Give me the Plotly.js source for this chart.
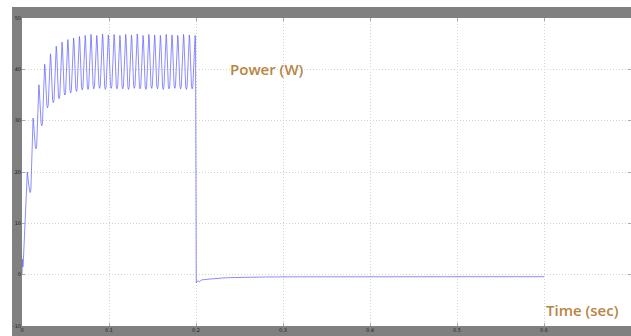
<!DOCTYPE html>
<html>
<head>
<meta charset="utf-8">
<script src="https://cdn.plot.ly/plotly-3.0.1.min.js"></script>
<style>html,body{margin:0;padding:0;background:#fff;}#chart{width:631px;height:336px;}</style>
</head>
<body>
<div id="chart"></div>
<script>
// Time (s) and power (W) samples
var timeSec = [
  0, 0.0005, 0.001, 0.0015,
  0.0061, 0.0066, 0.0086, 0.0094, 0.0102,
  0.01275, 0.01325, 0.01525, 0.01605, 0.01685,
  0.0194, 0.0199, 0.0219, 0.0227, 0.0235,
  0.02605, 0.02655, 0.02855, 0.02935, 0.03015,
  0.0327, 0.0332, 0.0352, 0.036, 0.0368,
  0.03935, 0.03985, 0.04185, 0.04265, 0.04345,
  0.046, 0.0465, 0.0485, 0.0493, 0.0501,
  0.05265, 0.05315, 0.05515, 0.05595, 0.05675,
  0.0593, 0.0598, 0.0618, 0.0626, 0.0634,
  0.06595, 0.06645, 0.06845, 0.06925, 0.07005,
  0.0726, 0.0731, 0.0751, 0.0759, 0.0767,
  0.07925, 0.07975, 0.08175, 0.08255, 0.08335,
  0.0859, 0.0864, 0.0884, 0.0892, 0.09,
  0.09255, 0.09305, 0.09505, 0.09585, 0.09665,
  0.0992, 0.0997, 0.1017, 0.1025, 0.1033,
  0.10585, 0.10635, 0.10835, 0.10915, 0.10995,
  0.1125, 0.113, 0.115, 0.1158, 0.1166,
  0.11915, 0.11965, 0.12165, 0.12245, 0.12325,
  0.1258, 0.1263, 0.1283, 0.1291, 0.1299,
  0.13245, 0.13295, 0.13495, 0.13575, 0.13655,
  0.1391, 0.1396, 0.1416, 0.1424, 0.1432,
  0.14575, 0.14625, 0.14825, 0.14905, 0.14985,
  0.1524, 0.1529, 0.1549, 0.1557, 0.1565,
  0.15905, 0.15955, 0.16155, 0.16235, 0.16315,
  0.1657, 0.1662, 0.1682, 0.169, 0.1698,
  0.17235, 0.17285, 0.17485, 0.17565, 0.17645,
  0.179, 0.1795, 0.1815, 0.1823, 0.1831,
  0.18565, 0.18615, 0.18815, 0.18895, 0.18975,
  0.1923, 0.1928, 0.1948, 0.1956, 0.1964,
  0.19895, 0.19945,
  0.2003, 0.202, 0.204, 0.206, 0.21, 0.215, 0.22,
  0.23, 0.24, 0.26, 0.28, 0.32, 0.4, 0.5, 0.6
];
var powerW = [
  0, 3, 1.5, 2.5,
  20, 19.2, 16.5, 16, 16.5,
  30.5, 29.7, 25, 24.5, 25,
  37, 36.2, 29.5, 29, 29.5,
  41, 40.2, 33, 32.5, 33,
  43, 42.2, 34, 33.5, 34,
  44.5, 43.7, 34.8, 34.3, 34.8,
  45.3, 44.5, 35.5, 35, 35.5,
  45.8, 45, 35.9, 35.4, 35.9,
  46.1, 45.3, 36.2, 35.7, 36.2,
  46.4, 45.6, 36.5, 36, 36.5,
  46.6, 45.8, 36.6, 36.1, 36.6,
  46.8, 46, 36.7, 36.2, 36.7,
  46.6, 45.8, 36.8, 36.3, 36.8,
  46.9, 46.1, 36.6, 36.1, 36.6,
  46.7, 45.9, 36.8, 36.3, 36.8,
  46.8, 46, 36.7, 36.2, 36.7,
  46.6, 45.8, 36.7, 36.2, 36.7,
  46.8, 46, 36.6, 36.1, 36.6,
  46.7, 45.9, 36.8, 36.3, 36.8,
  46.9, 46.1, 36.7, 36.2, 36.7,
  46.6, 45.8, 36.6, 36.1, 36.6,
  46.8, 46, 36.8, 36.3, 36.8,
  46.7, 45.9, 36.7, 36.2, 36.7,
  46.6, 45.8, 36.6, 36.1, 36.6,
  46.8, 46, 36.7, 36.2, 36.7,
  46.7, 45.9, 36.8, 36.3, 36.8,
  46.6, 45.8, 36.7, 36.2, 36.7,
  46.8, 46, 36.6, 36.1, 36.6,
  46.7, 45.9, 36.7, 36.2, 36.7,
  46.6, 45.8,
  -1.6, -1.2, -1.35, -1.05, -0.95, -0.85, -0.75,
  -0.65, -0.58, -0.5, -0.45, -0.42, -0.4, -0.4, -0.4
];
var xTickVals = [0, 0.1, 0.2, 0.3, 0.4, 0.5, 0.6, 0.7];
var xTickText = ['0', '0.1', '0.2', '0.3', '0.4', '0.5', '0.6', '0.7'];
var yTickVals = [-10, 0, 10, 20, 30, 40, 50];
var yTickText = ['-10', '0', '10', '20', '30', '40', '50'];
var signalLabel = 'Power (W)';
var timeLabel = 'Time (sec)';

var trace = {
  x: timeSec, y: powerW, type: 'scatter', mode: 'lines',
  line: {color: 'rgba(95,95,255,0.72)', width: 1},
  hoverinfo: 'none'
};

var axisCommon = {
  showgrid: true, gridcolor: '#d2d2d2', griddash: '1px,2px', gridwidth: 1,
  zeroline: false, showline: false,
  ticks: 'inside', ticklen: 3, tickcolor: '#aaaaaa', mirror: 'ticks',
  tickfont: {family: 'DejaVu Sans', size: 5, color: '#222'},
  fixedrange: true
};

var layout = {
  width: 631, height: 336,
  margin: {l: 22, r: 0, t: 18, b: 10, pad: 0},
  paper_bgcolor: '#808080',
  plot_bgcolor: '#ffffff',
  showlegend: false,
  xaxis: Object.assign({}, axisCommon, {
    range: [0, 0.7], tickvals: xTickVals, ticktext: xTickText, ticklabelstandoff: 0
  }),
  yaxis: Object.assign({}, axisCommon, {
    range: [-10, 50], tickvals: yTickVals, ticktext: yTickText, ticklabelstandoff: 0
  }),
  shapes: [
    {type: 'rect', xref: 'paper', yref: 'paper', x0: -0.04, x1: 1.01, y0: 1.0357, y1: 1.07,
     fillcolor: '#ffffff', line: {width: 0}, layer: 'below'},
    {type: 'rect', xref: 'paper', yref: 'paper', x0: -0.04, x1: -0.0164, y0: -0.04, y1: 1.07,
     fillcolor: '#ffffff', line: {width: 0}, layer: 'below'}
  ],
  annotations: [
    {text: signalLabel, xref: 'paper', yref: 'paper', x: 0.4015, y: 0.834,
     xanchor: 'center', yanchor: 'middle', showarrow: false,
     font: {family: 'Open Sans', size: 15, color: '#b88442', weight: 600}},
    {text: timeLabel, xref: 'paper', yref: 'paper', x: 0.92, y: 0.052,
     xanchor: 'center', yanchor: 'middle', showarrow: false,
     font: {family: 'Open Sans', size: 15, color: '#b88442', weight: 600}}
  ]
};

Plotly.newPlot('chart', [trace], layout, {displayModeBar: false, staticPlot: true});
</script>
</body>
</html>
